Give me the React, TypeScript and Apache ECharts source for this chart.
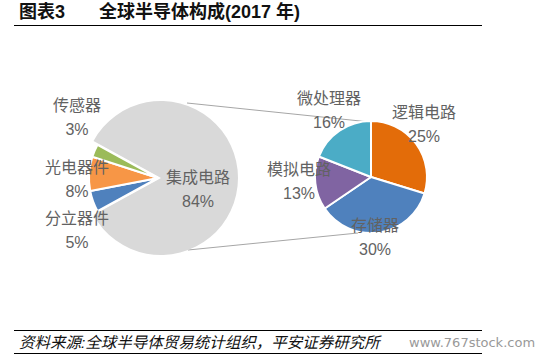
import React, { useEffect, useRef } from "react";
import * as echarts from "echarts";

const mainCategories = ["集成电路", "分立器件", "光电器件", "传感器"];
const mainValues = [84, 5, 8, 3];
const mainColors = ["#d9d9d9", "#4f81bd", "#f79646", "#9bbb59"];

const icCategories = ["逻辑电路", "存储器", "模拟电路", "微处理器"];
const icValues = [25, 30, 13, 16];
const icColors = ["#e36c09", "#4f81bd", "#8064a2", "#4bacc6"];

const titleNo = "图表3";
const titleText = "全球半导体构成(2017 年)";
const sourceText = "资料来源:全球半导体贸易统计组织，平安证券研究所";
const watermark = "www.767stock.com";

// label block centres (layout only)
const mainLabelPos: Record<string, [number, number]> = {
  集成电路: [198, 189],
  分立器件: [77, 230],
  光电器件: [77, 179],
  传感器: [77, 117],
};
const icLabelPos: Record<string, [number, number]> = {
  逻辑电路: [424, 124],
  存储器: [375, 237],
  模拟电路: [299, 181],
  微处理器: [329, 110],
};

const FONT = '"Liberation Sans", "Noto Sans CJK SC", sans-serif';
const labelStyle = {
  fontSize: 16,
  lineHeight: 24,
  color: "#626262",
  fontFamily: FONT,
  textBorderWidth: 0,
  textBorderColor: "transparent",
  textShadowBlur: 0,
};

export default function App() {
  const ref = useRef<HTMLDivElement>(null);
  useEffect(() => {
    if (!ref.current) return;
    const chart = echarts.init(ref.current, null, { renderer: "svg" });
    const total = mainValues.reduce((a, b) => a + b, 0);
    const startAngle = ((mainValues[0] / total) * 360) / 2;

    const bigData = mainCategories.map((n, i) => ({
      name: n,
      value: mainValues[i],
      itemStyle: { color: i === 0 ? mainColors[0] : "transparent" },
      label: { show: i === 0 },
    }));
    const smallData = mainCategories.map((n, i) => ({
      name: n,
      value: mainValues[i],
      itemStyle:
        i === 0
          ? { color: "transparent", borderWidth: 0 }
          : { color: mainColors[i], borderColor: "#ffffff", borderWidth: 2 },
      label: { show: i !== 0 },
    }));
    const icData = icCategories.map((n, i) => ({
      name: n,
      value: icValues[i],
      itemStyle: { color: icColors[i] },
    }));

    const layoutFor = (pos: Record<string, [number, number]>) => (p: any) => {
      const name = p.text ? String(p.text).split("\n")[0] : "";
      const xy = pos[name];
      if (!xy) return {};
      return { x: xy[0], y: xy[1], align: "center", verticalAlign: "middle" };
    };

    const commonLabel = {
      ...labelStyle,
      position: "outside",
      alignTo: "none",
    };

    chart.setOption({
      animation: false,
      backgroundColor: "#ffffff",
      series: [
        {
          type: "pie",
          center: [161, 178],
          radius: [0, 77],
          startAngle,
          clockwise: true,
          silent: true,
          avoidLabelOverlap: false,
          data: bigData,
          label: { ...commonLabel, formatter: "{b}\n{d}%" },
          labelLine: { show: false },
          labelLayout: layoutFor(mainLabelPos),
          z: 2,
        },
        {
          type: "pie",
          center: [158, 178],
          radius: [0, 69],
          startAngle,
          clockwise: true,
          silent: true,
          avoidLabelOverlap: false,
          data: smallData,
          label: { ...commonLabel, formatter: "{b}\n{d}%" },
          labelLine: { show: false },
          labelLayout: layoutFor(mainLabelPos),
          z: 3,
        },
        {
          type: "pie",
          center: [371, 177],
          radius: [0, 56],
          startAngle: 90,
          clockwise: true,
          silent: true,
          avoidLabelOverlap: false,
          data: icData,
          itemStyle: { borderColor: "#ffffff", borderWidth: 2 },
          label: { ...commonLabel, formatter: "{b}\n{c}%" },
          labelLine: { show: false },
          labelLayout: layoutFor(icLabelPos),
          z: 2,
        },
      ],
      graphic: [
        {
          type: "line",
          shape: { x1: 14, y1: 25.5, x2: 482, y2: 25.5 },
          style: { stroke: "#000000", lineWidth: 1 },
        },
        {
          type: "text",
          x: 19,
          y: 12,
          style: {
            text: titleNo,
            font: `bold 18px ${FONT}`,
            fill: "#111111",
            textVerticalAlign: "middle",
          },
        },
        {
          type: "text",
          x: 99,
          y: 12,
          style: {
            text: titleText,
            font: `bold 18px ${FONT}`,
            fill: "#111111",
            textVerticalAlign: "middle",
          },
        },
        {
          type: "line",
          shape: { x1: 187, y1: 103, x2: 370, y2: 122 },
          style: { stroke: "#a6a6a6", lineWidth: 1 },
          z: -1,
        },
        {
          type: "line",
          shape: { x1: 188, y1: 250, x2: 358, y2: 233 },
          style: { stroke: "#a6a6a6", lineWidth: 1 },
          z: -1,
        },
        {
          type: "line",
          shape: { x1: 14, y1: 330.5, x2: 482, y2: 330.5 },
          style: { stroke: "#000000", lineWidth: 1 },
        },
        {
          type: "line",
          shape: { x1: 14, y1: 353.5, x2: 482, y2: 353.5 },
          style: { stroke: "#000000", lineWidth: 1 },
        },
        {
          type: "text",
          x: 19,
          y: 342,
          style: {
            text: sourceText,
            font: `italic 15.5px ${FONT}`,
            fill: "#111111",
            textVerticalAlign: "middle",
          },
        },
        {
          type: "text",
          x: 409,
          y: 342,
          style: {
            text: watermark,
            font: `13px "DejaVu Sans", sans-serif`,
            fill: "#999999",
            textVerticalAlign: "middle",
          },
        },
      ],
    });
    return () => chart.dispose();
  }, []);
  return (
    <div
      ref={ref}
      style={{ position: "fixed", left: 0, top: 0, width: 543, height: 356, background: "#fff" }}
    />
  );
}
